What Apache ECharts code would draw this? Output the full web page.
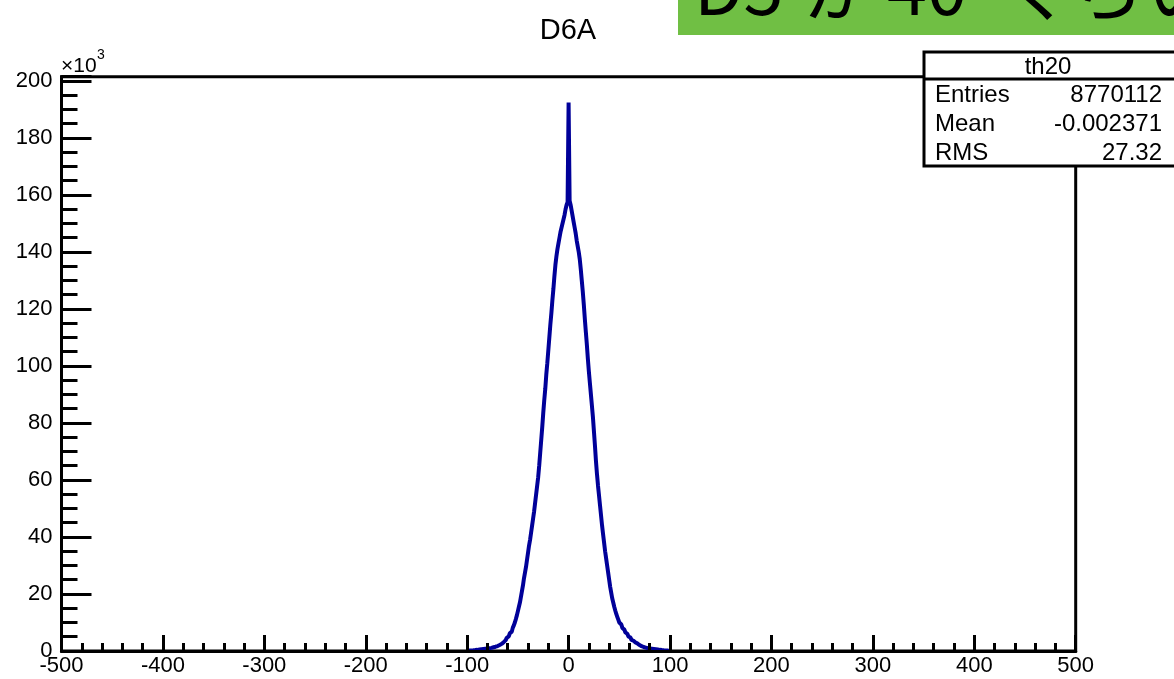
<!DOCTYPE html>
<html>
<head>
<meta charset="utf-8">
<title>D6A</title>
<script src="https://cdn.jsdelivr.net/npm/echarts@6.0.0/dist/echarts.min.js"></script>
<style>body{margin:0;background:#fff;}</style>
</head>
<body>
<div id="main" style="width:1174px;height:679px;"></div>
<script type="text/javascript">
// histogram th20, 1 unit bins, counts in thousands
var firstEdge = -100;
var binWidth = 1;
// bins -100 .. -1
var negSide = [
  0.13, 0.15, 0.17, 0.2, 0.22, 0.25, 0.28, 0.32, 0.36, 0.4,
  0.45, 0.5, 0.55, 0.6, 0.65, 0.7, 0.75, 0.8, 0.85, 0.9,
  0.95, 1.0, 1.05, 1.1, 1.2, 1.3, 1.4, 1.5, 1.6, 1.75,
  1.9, 2.1, 2.3, 2.5, 2.8, 3.1, 3.4, 3.8, 4.2, 4.6,
  5.1, 5.6, 6.2, 6.8, 7.4, 8.2, 9, 10, 11.2, 12.5,
  14, 15.5, 17, 19, 21, 23, 25.5, 27.5, 29.5, 32,
  34.5, 37, 39, 41.5, 44, 46.5, 49, 52, 55, 58,
  61, 65, 69.5, 74, 78.5, 83.5, 88, 92, 97, 101,
  105.5, 110, 114.5, 118.5, 123, 127, 131.5, 135.5, 138.5, 141,
  143, 145, 147, 148.5, 150, 151.5, 153, 155, 156.5, 157.5
];
// bins 0 .. 99 (bin 0 is the spike)
var posSide = [
  192.4, 158, 156.5, 154.5, 152.5, 150.5, 148.5, 146.5, 144, 142,
  140, 137.5, 134, 130, 126, 121.5, 116.5, 112, 107.5, 102.5,
  98, 94, 90, 86, 82, 77, 72, 66.5, 62, 58,
  54.5, 51, 47.5, 44, 41, 38, 35, 32.5, 30, 27.5,
  25, 22.5, 20.5, 18.5, 17, 15.5, 14.2, 13, 12, 11,
  10, 9.3, 8.7, 8.1, 7.5, 7, 6.5, 6, 5.5, 5.1,
  4.7, 4.3, 3.9, 3.6, 3.3, 3, 2.8, 2.6, 2.4, 2.1,
  1.9, 1.7, 1.55, 1.4, 1.3, 1.2, 1.1, 1.0, 0.95, 0.9,
  0.85, 0.8, 0.75, 0.7, 0.65, 0.6, 0.55, 0.5, 0.45, 0.4,
  0.36, 0.32, 0.28, 0.25, 0.22, 0.2, 0.17, 0.15, 0.13, 0.12
];
var statLabels = ['Entries', 'Mean', 'RMS'];
var statValues = ['8770112', '-0.002371', '27.32'];
var notePieces = ['D5', 'が', '40', 'くらい'];
var noteX = [694, 804, 887, 1000];

var xMin = -500, xMax = 500, yMax = 201.5;
var counts = negSide.concat(posSide);
var points = [];
for (var i = 0; i < counts.length; i++) {
  points.push([firstEdge + i * binWidth, counts[i]]);
}
points.push([firstEdge + counts.length * binWidth, 0]);

var FONT = '"Liberation Sans", Arial, sans-serif';
var black = '#000';

var graphics = [
  {type: 'text', x: 568, y: 31, z: 10,
   style: {text: 'D6A', font: '29px ' + FONT, fill: black, align: 'center', verticalAlign: 'middle'}},
  {type: 'text', x: 61, y: 66, z: 10,
   style: {text: '\u00d710', font: '21px ' + FONT, fill: black, align: 'left', verticalAlign: 'middle'}},
  {type: 'text', x: 97, y: 55, z: 10,
   style: {text: '3', font: '14px ' + FONT, fill: black, align: 'left', verticalAlign: 'middle'}},
  // green note box
  {type: 'rect', shape: {x: 678, y: 0, width: 496, height: 35}, z: 20,
   style: {fill: '#70bf44'}}
];
notePieces.forEach(function (t, k) {
  graphics.push({type: 'text', x: noteX[k], y: -12, z: 21,
    style: {text: t, font: '72px "Noto Sans CJK JP"', fill: black, align: 'left', verticalAlign: 'middle'}});
});
// stats box
graphics.push(
  {type: 'rect', shape: {x: 924, y: 52, width: 262, height: 114}, z: 20,
   style: {fill: '#fff', stroke: black, lineWidth: 3}},
  {type: 'line', shape: {x1: 924, y1: 79, x2: 1174, y2: 79}, z: 21,
   style: {stroke: black, lineWidth: 3}},
  {type: 'text', x: 1048, y: 67, z: 21,
   style: {text: 'th20', font: '24px ' + FONT, fill: black, align: 'center', verticalAlign: 'middle'}}
);
statLabels.forEach(function (lab, k) {
  var yy = 95 + k * 29;
  graphics.push({type: 'text', x: 935, y: yy, z: 21,
    style: {text: lab, font: '24px ' + FONT, fill: black, align: 'left', verticalAlign: 'middle'}});
  graphics.push({type: 'text', x: 1162, y: yy, z: 21,
    style: {text: statValues[k], font: '24px ' + FONT, fill: black, align: 'right', verticalAlign: 'middle'}});
});

var myChart = echarts.init(document.getElementById('main'));
var option = {
  animation: false,
  backgroundColor: '#fff',
  grid: {
    left: 61.5, right: 98.3, top: 76.7, bottom: 28,
    show: true, borderColor: black, borderWidth: 3, backgroundColor: 'transparent'
  },
  xAxis: {
    type: 'value', min: xMin, max: xMax, interval: 100, z: 5,
    axisLine: {onZero: false, lineStyle: {color: black, width: 3}},
    axisTick: {inside: true, length: 16, lineStyle: {color: black, width: 3}},
    minorTick: {show: true, splitNumber: 5, length: 8, lineStyle: {color: black, width: 3}},
    axisLabel: {color: black, fontSize: 22, fontFamily: FONT, margin: 4},
    splitLine: {show: false}
  },
  yAxis: [
    {
      type: 'value', min: 0, max: yMax, interval: 20, position: 'left', z: 5,
      axisLine: {show: true, onZero: false, lineStyle: {color: black, width: 3}},
      axisTick: {show: true, inside: true, length: 30, lineStyle: {color: black, width: 3}},
      axisLabel: {
        color: black, fontSize: 22, fontFamily: FONT, margin: 9,
        formatter: function (v) { return v % 20 === 0 ? String(v) : ''; }
      },
      splitLine: {show: false}
    },
    {
      type: 'value', min: 0, max: yMax, interval: 5, position: 'left', z: 5,
      axisLine: {show: false, onZero: false},
      axisTick: {show: true, inside: true, length: 16, lineStyle: {color: black, width: 3}},
      axisLabel: {show: false},
      splitLine: {show: false}
    }
  ],
  graphic: graphics,
  series: [{
    name: 'th20',
    type: 'line',
    step: 'end',
    yAxisIndex: 0,
    symbol: 'none',
    lineStyle: {color: '#000099', width: 4},
    data: points
  }]
};
myChart.setOption(option);
</script>
</body>
</html>
